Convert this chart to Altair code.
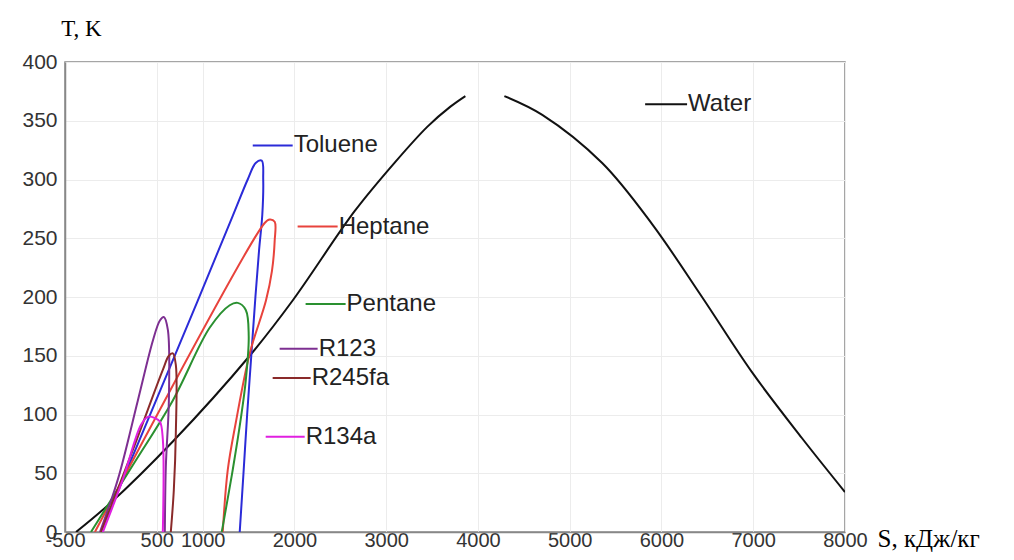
import altair as alt
import pandas as pd

# ---- data (S in kJ/kg, T in K) ----
water_left_s = [-380, 0, 675, 1513, 1981, 2656, 3100, 3450, 3700, 3863]
water_left_t = [0, 25, 77, 150, 197, 273, 315, 345, 362, 371]
water_right_s = [4288, 4701, 5354, 5898, 6442, 6986, 7530, 8000]
water_right_t = [371, 355, 314, 262, 200, 136, 80, 34]

toluene_s = [-108, 947, 1328, 1491, 1578, 1644, 1660, 1650, 1615, 1575, 1530, 1485, 1445, 1404]
toluene_t = [0, 197, 269, 300, 314, 316, 300, 270, 240, 200, 150, 100, 50, 0]

heptane_s = [-174, 1676, 1731, 1785, 1785, 1755, 1690, 1513, 1361, 1274, 1219]
heptane_t = [0, 263, 266, 264, 248, 222, 197, 152, 93, 53, 0]

pentane_s = [-217, 240, 675, 1078, 1295, 1382, 1470, 1502, 1470, 1415, 1328, 1252, 1208]
pentane_t = [0, 57, 112, 174, 193, 195, 189, 167, 129, 96, 53, 19, 0]

r123_s = [-119, 77, 294, 458, 534, 577, 621, 632, 599, 588]
r123_t = [0, 45, 112, 163, 180, 183, 172, 112, 56, 0]

r245fa_s = [-108, 240, 566, 632, 675, 708, 708, 686, 653]
r245fa_t = [0, 70, 138, 150, 152, 142, 85, 36, 0]

r134a_s = [-87, 131, 327, 403, 479, 534, 566, 566]
r134a_t = [0, 45, 91, 98, 97, 94, 79, 0]

series_names = ["Water", "Toluene", "Heptane", "Pentane", "R123", "R245fa", "R134a"]
series_colors = ["#111111", "#2b2bd8", "#e8433c", "#2a9030", "#7d2f91", "#8a2a2a", "#e01fe0"]

# inline legend: line start / end S and T of each label
legend_s0 = [5822, 1546, 2035, 2122, 1839, 1763, 1687]
legend_s1 = [6279, 1981, 2471, 2558, 2253, 2177, 2112]
legend_t = [364, 329, 260, 194, 156, 131, 81]

x_ticks = [-500, 500, 1000, 2000, 3000, 4000, 5000, 6000, 7000, 8000]
y_ticks = [0, 50, 100, 150, 200, 250, 300, 350, 400]

# ---- build table ----
rows = []
def add(name, seg, xs, ts):
    for i, (xv, tv) in enumerate(zip(xs, ts)):
        rows.append({"name": name, "seg": f"{name}-{seg}", "i": i, "S": xv, "T": tv})

add("Water", 0, water_left_s, water_left_t)
add("Water", 1, water_right_s, water_right_t)
add("Toluene", 0, toluene_s, toluene_t)
add("Heptane", 0, heptane_s, heptane_t)
add("Pentane", 0, pentane_s, pentane_t)
add("R123", 0, r123_s, r123_t)
add("R245fa", 0, r245fa_s, r245fa_t)
add("R134a", 0, r134a_s, r134a_t)
df = pd.DataFrame(rows)

leg = pd.DataFrame({"name": series_names, "s0": legend_s0, "s1": legend_s1, "t": legend_t})

xscale = alt.Scale(domain=[-500, 8000], nice=False, zero=False)
yscale = alt.Scale(domain=[0, 400], nice=False, zero=False)
cscale = alt.Scale(domain=series_names, range=series_colors)

curves = alt.Chart(df).mark_line(strokeWidth=2, interpolate="catmull-rom", clip=True).encode(
    x=alt.X("S:Q", scale=xscale,
            axis=alt.Axis(values=x_ticks, labelExpr="'' + datum.value", title="S, кДж/кг",
                          grid=True, gridColor="#ececec",
                          labelFont="Liberation Sans", labelFontSize=20, labelColor="#333333",
                          labelBaseline="middle", labelPadding=8, ticks=False,
                          domainColor="#888888", domainWidth=1.5, labelFlush=False,
                          titleFont="Liberation Serif", titleFontSize=25, titleFontWeight="normal",
                          titleColor="#000000", titleAnchor="start", titleAlign="left",
                          titleBaseline="middle", titleX=812, titleY=6)),
    y=alt.Y("T:Q", scale=yscale,
            axis=alt.Axis(values=y_ticks, title="T, K", grid=True, gridColor="#ececec",
                          labelFont="Liberation Sans", labelFontSize=21, labelColor="#333333",
                          labelPadding=8, ticks=False, domainColor="#888888", domainWidth=1.5,
                          labelFlush=False,
                          titleFont="Liberation Serif", titleFontSize=23, titleFontWeight="normal",
                          titleColor="#000000", titleAngle=0, titleAlign="center",
                          titleBaseline="middle", titleX=16, titleY=-34)),
    color=alt.Color("name:N", scale=cscale, legend=None),
    detail="seg:N",
    order="i:Q",
)

leg_lines = alt.Chart(leg).mark_rule(strokeWidth=2).encode(
    x=alt.X("s0:Q", scale=xscale),
    x2="s1:Q",
    y=alt.Y("t:Q", scale=yscale),
    color=alt.Color("name:N", scale=cscale, legend=None),
)

leg_text = alt.Chart(leg).mark_text(align="left", baseline="middle", dx=1,
                                    font="Liberation Sans", fontSize=24, color="#222222").encode(
    x=alt.X("s1:Q", scale=xscale),
    y=alt.Y("t:Q", scale=yscale),
    text="name:N",
)

chart = alt.layer(curves, leg_lines, leg_text).properties(
    width=780, height=470,
    autosize=alt.AutoSizeParams(type="none"),
    padding={"left": 57, "top": 54, "right": 161, "bottom": 20},
    background="white",
).configure_view(stroke="#888888", strokeWidth=1.5)

chart.save("out.html", embed_options={"renderer": "svg", "actions": False})
